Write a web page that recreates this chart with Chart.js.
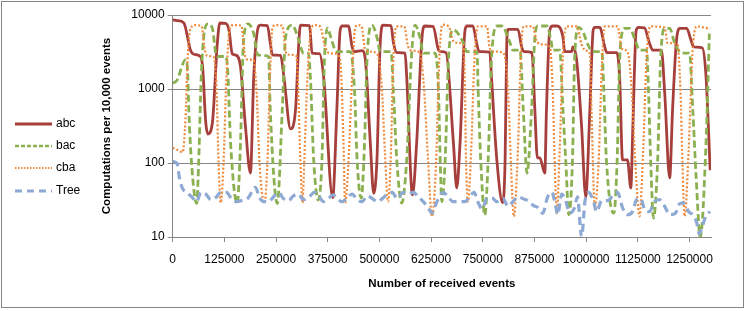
<!DOCTYPE html>
<html>
<head>
<meta charset="utf-8">
<script src="https://cdn.jsdelivr.net/npm/chart.js@4/dist/chart.umd.min.js"></script>
<style>
  body { margin: 0; background: #fff; }
  #wrap { position: relative; width: 751px; height: 311px; }
  #frame { position: absolute; left: 1px; top: 1px; width: 743px; height: 307px; border: 1px solid #868686; box-sizing: border-box; }
  canvas { position: absolute; left: 0; top: 0; }
  .leg { position: absolute; left: 15px; height: 14px; font: 12px "Liberation Sans", Arial, sans-serif; color: #000; }
  .leg svg { position: absolute; left: 0; top: 4px; }
  .leg span { position: absolute; left: 41px; top: -1px; white-space: nowrap; }
</style>
</head>
<body>
<div id="wrap">
  <div id="frame"></div>
  <canvas id="chart" width="751" height="311"></canvas>
  <div id="legend"></div>
</div>
<script>
// x values are in thousands of received events
const xTicks = [0, 125000, 250000, 375000, 500000, 625000, 750000, 875000, 1000000, 1125000, 1250000];
const yTicks = [10, 100, 1000, 10000];

const abcK = [0, 10, 27, 43, 51, 65, 72, 80, 85, 96, 108, 114, 128, 136, 144, 154, 164, 176, 188, 196,
  208, 212, 229, 236, 241, 261, 269, 285, 297, 305, 309, 331, 337, 355, 365, 387, 397, 405, 410, 425,
  434, 439, 458, 466, 478, 486, 494, 502, 509, 528, 534, 542, 562, 566, 580, 590, 603, 610, 630, 643,
  649, 661, 679, 687, 695, 707, 712, 726, 735, 741, 767, 771, 784, 798, 804, 808, 811, 835, 844, 849,
  869, 876, 882, 888, 900, 904, 912, 919, 929, 944, 948, 965, 968, 977, 989, 999, 1009, 1017, 1021, 1033,
  1045, 1050, 1074, 1081, 1088, 1100, 1108, 1113, 1121, 1127, 1141, 1153, 1161, 1182, 1190, 1202, 1209, 1218, 1226, 1243,
  1254, 1260, 1281, 1290, 1300];
const abcValues = [8600, 8400, 7800, 3350, 2950, 2800, 2100, 350, 246, 350, 4200, 7800, 7700, 6300, 3000, 2850, 2000, 310, 73, 1460,
  7100, 7300, 7200, 4200, 2900, 2850, 1460, 290, 520, 4200, 7300, 7200, 3050, 3000, 1460, 34, 520, 6200, 7100, 7100,
  3700, 3200, 3300, 2470, 186, 39, 110, 4200, 7300, 7200, 4200, 3100, 3050, 1460, 37, 186, 5000, 7100, 7000, 3350,
  3200, 3100, 186, 46, 186, 6200, 7100, 7100, 4200, 3200, 3150, 1460, 110, 29, 110, 4200, 6400, 6400, 3700, 3200,
  3100, 520, 117, 117, 73, 520, 6200, 7100, 7100, 5000, 3200, 3200, 3700, 2470, 310, 35, 520, 6200, 6800, 6800,
  3700, 3100, 3100, 1460, 110, 110, 46, 310, 6200, 6800, 6700, 4200, 3350, 3350, 890, 63, 520, 4200, 6600, 6600,
  4500, 3700, 3600, 1460, 80];

const bacK = [0, 10, 31, 36, 39, 45, 58, 63, 69, 76, 85, 96, 104, 109, 128, 133, 140, 156, 164, 171,
  182, 196, 206, 232, 236, 253, 265, 273, 289, 305, 316, 328, 333, 341, 352, 361, 367, 375, 381, 393,
  398, 430, 440, 446, 456, 464, 470, 482, 494, 502, 528, 534, 542, 554, 566, 577, 586, 598, 606, 635,
  643, 647, 651, 659, 667, 679, 703, 711, 736, 739, 745, 755, 763, 771, 784, 796, 816, 823, 840, 848,
  857, 868, 876, 883, 905, 916, 919, 936, 944, 951, 958, 967, 972, 982, 992, 1004, 1016, 1038, 1043, 1049,
  1067, 1075, 1081, 1093, 1105, 1121, 1129, 1146, 1151, 1156, 1163, 1173, 1180, 1190, 1202, 1214, 1231, 1250, 1258, 1266,
  1276, 1290, 1298];
const bacValues = [1200, 1300, 2470, 1800, 520, 110, 28.5, 110, 1460, 5600, 7600, 6600, 3060, 2750, 2750, 1800, 186, 28.5, 186, 4200,
  7600, 5600, 2880, 2750, 520, 28.5, 520, 5000, 7300, 4600, 3050, 3050, 1460, 110, 31.6, 110, 2470, 6700, 5300, 3350,
  3190, 3190, 890, 110, 33.6, 186, 2470, 7300, 5000, 3190, 3190, 890, 110, 28.8, 110, 2470, 7300, 5000, 3050, 3050,
  890, 110, 30, 110, 2470, 6300, 4200, 3190, 3190, 890, 110, 19.8, 110, 2470, 7100, 7100, 4200, 3350, 3350, 520,
  73, 520, 5000, 7100, 7100, 4200, 3350, 3350, 520, 100, 20, 110, 2470, 6800, 6000, 4000, 3200, 3200, 890, 110,
  21, 110, 2470, 6600, 6600, 4200, 3350, 3350, 890, 110, 18, 110, 2470, 6600, 6600, 4200, 3050, 3050, 520, 65,
  10, 186, 5600];

const cbaK = [0, 12, 24, 31, 36, 43, 55, 70, 77, 84, 99, 106, 111, 116, 123, 130, 138, 147, 166, 174,
  181, 195, 203, 210, 222, 229, 236, 241, 248, 265, 275, 285, 299, 304, 309, 314, 318, 326, 335, 343,
  357, 367, 376, 393, 405, 413, 417, 425, 434, 441, 448, 457, 465, 477, 494, 506, 513, 521, 528, 533,
  541, 560, 569, 579, 598, 608, 618, 627, 637, 644, 652, 668, 678, 690, 702, 707, 709, 714, 722, 729,
  738, 760, 767, 779, 799, 811, 818, 825, 835, 842, 849, 871, 881, 898, 912, 919, 924, 929, 936, 944,
  953, 977, 989, 999, 1009, 1013, 1021, 1030, 1038, 1045, 1076, 1086, 1100, 1110, 1119, 1129, 1138, 1146, 1155, 1190,
  1197, 1221, 1228, 1233, 1238, 1248, 1257, 1267, 1300];
const cbaValues = [160, 150, 140, 400, 2500, 6500, 7300, 7000, 3500, 2800, 2700, 1000, 100, 29, 100, 1500, 6500, 7300, 7200, 3000,
  2500, 2500, 900, 100, 29, 100, 2000, 6500, 7300, 7200, 3000, 2900, 2800, 800, 100, 29, 100, 1500, 6500, 7300,
  7000, 4000, 3100, 3000, 2500, 200, 29, 100, 1500, 6500, 7300, 7000, 3500, 3200, 3000, 1000, 150, 30, 150, 2000,
  7000, 7000, 3800, 3300, 3100, 1000, 100, 19, 100, 2000, 7400, 7000, 4500, 4200, 4000, 1000, 150, 30, 150, 2000,
  7000, 7000, 3500, 3200, 3100, 1000, 100, 19, 150, 3000, 7000, 7000, 4300, 4000, 3700, 1000, 100, 21, 150, 3000,
  7000, 7000, 4000, 3300, 3000, 500, 25, 100, 2000, 7000, 7000, 3500, 3200, 1000, 100, 19, 150, 2500, 7000, 6800,
  4200, 4000, 1000, 100, 19, 150, 3000, 7000, 6500];

const treeK = [0, 10, 17, 24, 34, 46, 58, 68, 80, 92, 104, 116, 130, 142, 154, 166, 181, 193, 200, 210,
  220, 232, 244, 256, 268, 280, 292, 304, 316, 328, 343, 355, 364, 376, 388, 401, 410, 422, 434, 446,
  458, 471, 483, 495, 507, 519, 531, 543, 557, 569, 582, 594, 606, 618, 627, 639, 654, 666, 678, 692,
  707, 719, 729, 738, 748, 760, 772, 784, 799, 811, 823, 835, 847, 859, 871, 883, 895, 907, 917, 927,
  931, 941, 951, 960, 972, 979, 989, 997, 1006, 1018, 1025, 1038, 1052, 1066, 1076, 1088, 1100, 1112, 1122, 1132,
  1141, 1153, 1165, 1177, 1190, 1202, 1216, 1226, 1235, 1248, 1257, 1267, 1274, 1281, 1291, 1300];
const treeValues = [105, 100, 60, 45, 40, 35, 30, 40, 38, 32, 34, 40, 40, 33, 30, 31, 33, 42, 47, 34,
  30, 30, 35, 40, 33, 31, 36, 38, 32, 34, 40, 35, 30, 33, 37, 32, 30, 34, 38, 32,
  30, 36, 33, 30, 33, 38, 40, 33, 40, 38, 40, 35, 30, 25, 21, 30, 40, 35, 30, 30,
  30, 36, 40, 30, 24, 33, 34, 30, 33, 26, 30, 35, 33, 31, 27, 25, 21, 35, 40, 25,
  20, 38, 30, 21, 25, 35, 10, 30, 40, 30, 22, 31, 31, 37, 40, 25, 20, 22, 32, 33,
  24, 22, 30, 32, 26, 20, 21, 28, 29, 22, 20, 16, 11, 14, 20, 22];

function points(ks, vals) {
  return ks.map((k, i) => ({ x: k * 1000, y: vals[i] }));
}

const tickFont = { family: "'Liberation Sans', Arial, sans-serif", size: 12 };
const titleFont = { family: "'Liberation Sans', Arial, sans-serif", size: 11.5, weight: 'bold' };
const axisGray = '#868686';

const chart = new Chart(document.getElementById('chart'), {
  type: 'line',
  data: {
    datasets: [
      { label: 'abc', data: points(abcK, abcValues), borderColor: '#A63F3B', borderWidth: 2.8, order: 4 },
      { label: 'bac', data: points(bacK, bacValues), borderColor: '#8BB050', borderWidth: 2.8, borderDash: [7, 3.5], order: 3 },
      { label: 'cba', data: points(cbaK, cbaValues), borderColor: '#EE8A3C', borderWidth: 2.2, borderDash: [2, 2], order: 2 },
      { label: 'Tree', data: points(treeK, treeValues), borderColor: '#8EA9D3', borderWidth: 3.2, borderDash: [8, 5], order: 1 }
    ]
  },
  options: {
    responsive: false,
    animation: false,
    layout: { padding: { top: 15, right: 40, bottom: 0, left: 0 } },
    plugins: { legend: { display: false }, tooltip: { enabled: false } },
    elements: {
      point: { radius: 0 },
      line: { cubicInterpolationMode: 'monotone', fill: false, borderCapStyle: 'butt' }
    },
    scales: {
      x: {
        type: 'linear',
        min: 0,
        max: 1302000,
        afterBuildTicks: s => { s.ticks = xTicks.map(v => ({ value: v })); },
        afterFit: s => { s.height = 74; },
        grid: { drawOnChartArea: false, drawTicks: true, tickLength: 5, color: axisGray },
        border: { color: axisGray },
        ticks: { autoSkip: false, maxRotation: 0, padding: 10, color: '#000', font: tickFont, callback: v => String(v) },
        title: { display: true, text: 'Number of received events', color: '#000', font: titleFont, padding: { top: 0, bottom: 20 } }
      },
      y: {
        type: 'logarithmic',
        min: 10,
        max: 10000,
        afterBuildTicks: s => { s.ticks = yTicks.map(v => ({ value: v })); },
        afterFit: s => { s.width = 172.7; },
        grid: { color: axisGray, tickLength: 5 },
        border: { color: axisGray },
        ticks: { padding: 3, color: '#000', font: tickFont, callback: v => String(v) },
        title: { display: true, text: 'Computations per 10,000 events', color: '#000', font: titleFont, padding: { top: 100, bottom: 0 } }
      }
    }
  }
});

// legend on the left, like the original
const legendItems = [
  { name: 'abc', top: 117, color: '#A63F3B', width: 2.8, dash: '' },
  { name: 'bac', top: 139, color: '#8BB050', width: 2.4, dash: '4 2' },
  { name: 'cba', top: 161, color: '#EE8A3C', width: 2, dash: '1.5 1.5' },
  { name: 'Tree', top: 184, color: '#8EA9D3', width: 2.8, dash: '7 5' }
];
const legendEl = document.getElementById('legend');
legendItems.forEach(it => {
  const d = document.createElement('div');
  d.className = 'leg';
  d.style.top = it.top + 'px';
  d.innerHTML = '<svg width="38" height="6"><line x1="0" y1="3" x2="37" y2="3" stroke="' + it.color +
    '" stroke-width="' + it.width + '"' + (it.dash ? ' stroke-dasharray="' + it.dash + '"' : '') + '/></svg>' +
    '<span>' + it.name + '</span>';
  legendEl.appendChild(d);
});
</script>
</body>
</html>
